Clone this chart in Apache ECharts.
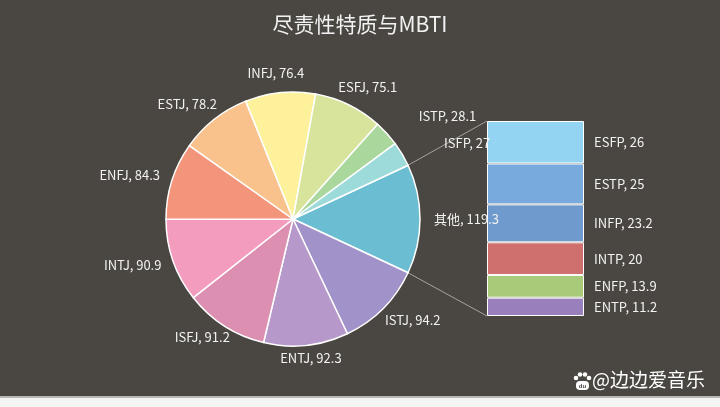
<!DOCTYPE html>
<html>
<head>
<meta charset="utf-8">
<script src="https://cdn.jsdelivr.net/npm/echarts@6/dist/echarts.min.js"></script>
<style>
  html, body { margin: 0; padding: 0; background: #f4f4f2; }
  #main { width: 720px; height: 396px; border-bottom: 2px solid #b9b7b2; }
</style>
</head>
<body>
<div id="main"></div>
<script>
// pie slices, clockwise starting from "其他"
var pieNames = ['其他', 'ISTJ', 'ENTJ', 'ISFJ', 'INTJ', 'ENFJ', 'ESTJ', 'INFJ', 'ESFJ', 'ISTP', 'ISFP'];
var pieValues = [119.3, 94.2, 92.3, 91.2, 90.9, 84.3, 78.2, 76.4, 75.1, 28.1, 27];
var pieColors = ['#6bbdd2', '#a193c9', '#b698ca', '#dd8fb1', '#f49cbd', '#f3957b', '#f9c28d', '#fdf19c', '#d8e49c', '#a9d79c', '#9ddada'];

// the "其他" breakdown, bottom to top
var barNames = ['ENTP', 'ENFP', 'INTP', 'INFP', 'ESTP', 'ESFP'];
var barValues = [11.2, 13.9, 20, 23.2, 25, 26];
var barColors = ['#9a7fbd', '#a9ca79', '#cf706f', '#6f9acd', '#79aadd', '#94d4f3'];

var otherTotal = 119.3;
var pieSum = pieValues.reduce(function (a, b) { return a + b; }, 0);
var startAngle = pieValues[0] / pieSum * 180;   // centre "其他" on the right

var c = [293, 219], r = 127;
// small label nudges where the small slices crowd together
var labelNudge = { ISTP: [29, -4], ISFP: [33, -1], ISTJ: [0, 3] };

// mid angle (degrees, counter-clockwise from 3 o'clock) of every slice
var midAngles = [];
var cum = 0;
for (var k = 0; k < pieValues.length; k++) {
    midAngles.push(startAngle - (cum + pieValues[k] / 2) / pieSum * 360);
    cum += pieValues[k];
}

var chart = echarts.init(document.getElementById('main'));
var font = '"Noto Sans CJK SC", "Noto Sans", sans-serif';

var pieData = [];
for (var i = 0; i < pieNames.length; i++) {
    pieData.push({ name: pieNames[i], value: pieValues[i], itemStyle: { color: pieColors[i] } });
}

var barSeries = [];
for (var j = 0; j < barNames.length; j++) {
    barSeries.push({
        type: 'bar',
        name: barNames[j],
        stack: 'other',
        barWidth: '100%',
        data: [barValues[j]],
        itemStyle: { color: barColors[j], borderColor: '#ffffff', borderWidth: 1 },
        label: {
            show: true,
            position: 'right',
            distance: 10,
            color: '#f2f2f2',
            fontSize: 13,
            fontFamily: font,
            formatter: barNames[j] + ', ' + barValues[j]
        }
    });
}

function pieLabelLayout(params) {
    var th = midAngles[params.dataIndex] * Math.PI / 180;
    var cs = Math.cos(th), sn = Math.sin(th);
    var w = params.labelRect.width, h = params.labelRect.height;
    var px = c[0] + (r + 14) * cs;
    var py = c[1] - (r + (sn > 0 ? 13 : 6)) * sn;
    var x = px + w / 2 * cs;
    var y = py - h / 2 * sn;
    var nudge = labelNudge[pieNames[params.dataIndex]];
    if (nudge) { x += nudge[0]; y += nudge[1]; }
    return { x: x, y: y, align: 'center', verticalAlign: 'middle' };
}

function paw(x, y) {
    return {
        type: 'group',
        x: x,
        y: y,
        children: [
            { type: 'circle', shape: { cx: 3, cy: 6, r: 2.3 }, style: { fill: '#fff' } },
            { type: 'circle', shape: { cx: 7, cy: 2.5, r: 2.3 }, style: { fill: '#fff' } },
            { type: 'circle', shape: { cx: 12, cy: 2.5, r: 2.3 }, style: { fill: '#fff' } },
            { type: 'circle', shape: { cx: 16, cy: 6, r: 2.3 }, style: { fill: '#fff' } },
            { type: 'rect', shape: { x: 3, y: 9, width: 13, height: 9, r: 4 }, style: { fill: '#fff' } },
            { type: 'text', style: { x: 9.5, y: 14, text: 'du', fill: '#4a4641', fontSize: 6, align: 'center', verticalAlign: 'middle', fontWeight: 'bold' } }
        ]
    };
}

var option = {
    backgroundColor: '#4a4641',
    animation: false,
    title: {
        text: '尽责性特质与MBTI',
        left: 'center',
        top: 9,
        textStyle: { color: '#f2f2f2', fontSize: 21, fontWeight: 'normal', fontFamily: font }
    },
    grid: { left: 487, top: 121, width: 97, height: 195 },
    xAxis: { type: 'category', data: ['其他'], show: false },
    yAxis: { type: 'value', min: 0, max: otherTotal, show: false },
    series: [{
        type: 'pie',
        center: c,
        radius: [0, r],
        startAngle: startAngle,
        clockwise: true,
        data: pieData,
        itemStyle: { borderColor: '#ffffff', borderWidth: 1.5 },
        label: {
            show: true,
            color: '#f2f2f2',
            fontSize: 13,
            fontFamily: font,
            formatter: '{b}, {c}'
        },
        labelLine: { show: false },
        labelLayout: pieLabelLayout
    }].concat(barSeries)
};
chart.setOption(option);

// connector lines from the edges of "其他" to the stacked bar
var a = startAngle * Math.PI / 180;
var topLeft = chart.convertToPixel({ gridIndex: 0 }, [0, otherTotal]);
var botLeft = chart.convertToPixel({ gridIndex: 0 }, [0, 0]);
var barLeft = 487;
chart.setOption({
    graphic: [paw(573, 372), {
        type: 'text',
        left: 592,
        top: 370,
        style: { text: '@边边爱音乐', fill: '#ffffff', fontSize: 19, fontFamily: font }
    }, {
        type: 'line',
        shape: { x1: c[0] + r * Math.cos(a), y1: c[1] - r * Math.sin(a), x2: barLeft, y2: topLeft[1] },
        style: { stroke: '#a6a39e', lineWidth: 1 }
    }, {
        type: 'line',
        shape: { x1: c[0] + r * Math.cos(a), y1: c[1] + r * Math.sin(a), x2: barLeft, y2: botLeft[1] },
        style: { stroke: '#a6a39e', lineWidth: 1 }
    }]
});
</script>
</body>
</html>
